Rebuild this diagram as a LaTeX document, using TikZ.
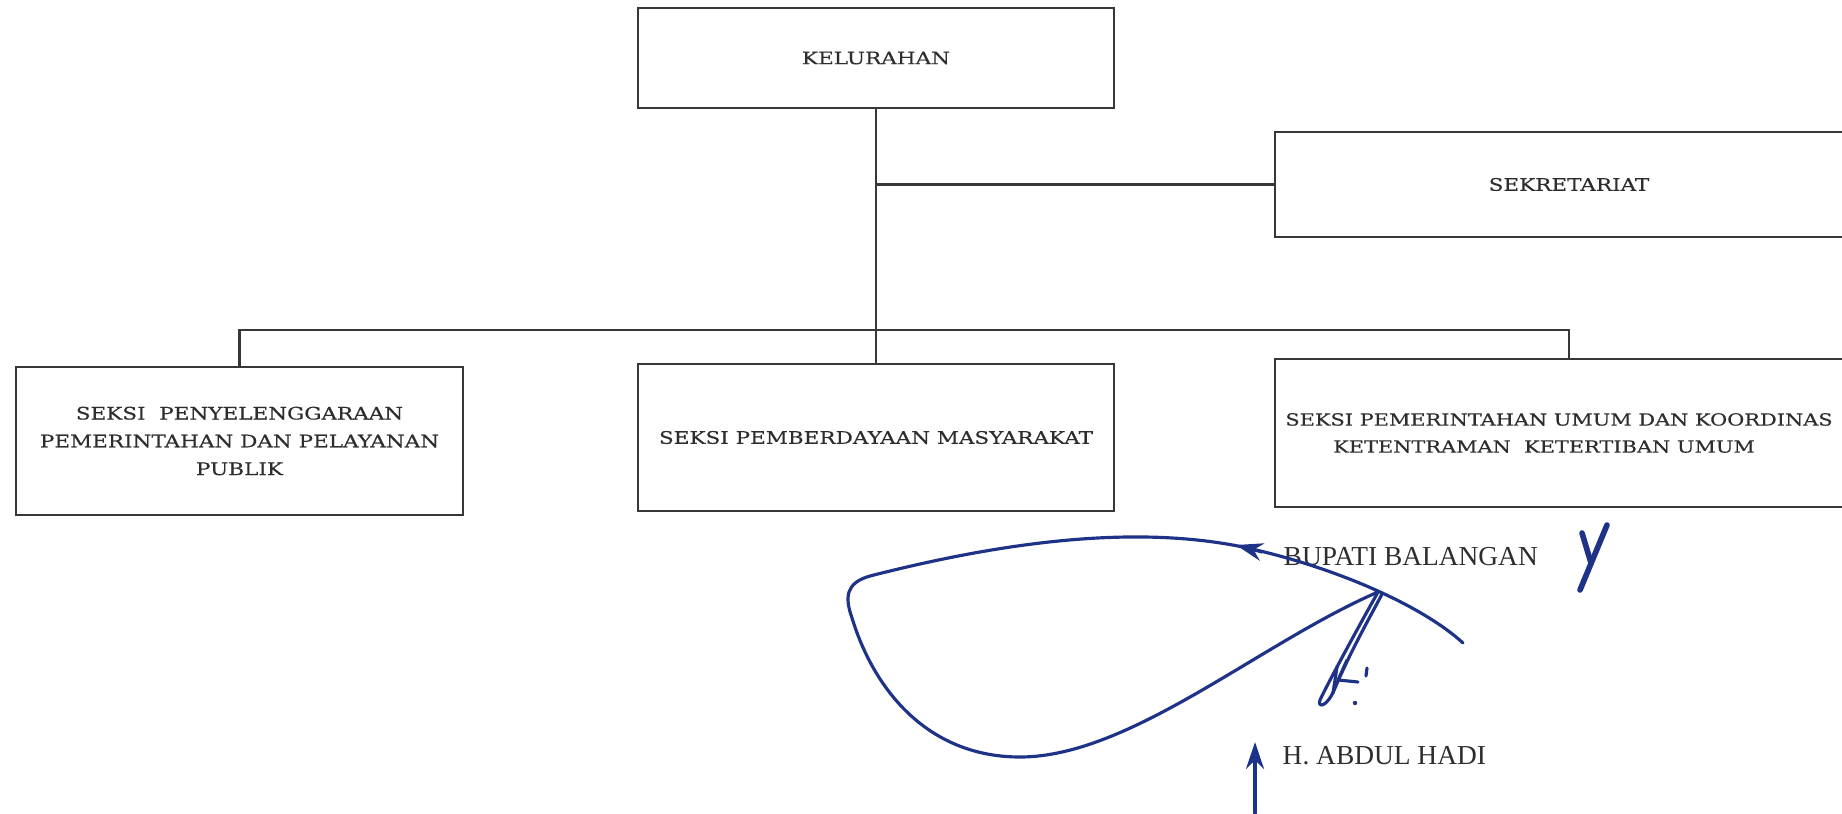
\documentclass[tikz,border=0pt]{standalone}
\usepackage{fontspec}
\usepackage{xcolor}
\usepackage{tikz}
\usetikzlibrary{arrows.meta,positioning,calc}
\newfontfamily\boxfont[FakeStretch=1.25,FakeBold=0.4]{DejaVu Serif}
\newfontfamily\namefont{Liberation Serif}
\definecolor{orgedge}{RGB}{55,55,55}
\definecolor{orgtext}{RGB}{45,45,45}
\definecolor{sigink}{RGB}{30,50,135}
\tikzset{
  orgbox/.style={
    draw=orgedge, line width=0.8pt, align=center, inner sep=0pt,
    text=orgtext, font=\boxfont\fontsize{4.9}{7.9}\selectfont
  },
  link/.style={draw=orgedge, line width=0.6pt},
  sign/.style={draw=sigink, line width=0.9pt, line cap=round, line join=round},
  signarr/.style={sign, -{Stealth[length=2.7mm,width=1.8mm]}},
  signame/.style={
    font=\namefont\fontsize{7.8}{9}\selectfont, text=orgtext,
    inner sep=0pt, anchor=west
  }
}

\begin{document}
\begin{tikzpicture}[x=1cm,y=1cm]
  \clip (0,0) rectangle (18.42,8.13);
  \node[orgbox, minimum width=4.76cm, minimum height=1.0cm] (kel) at (8.76,7.55) {KELURAHAN};
  \node[orgbox, minimum width=5.88cm, minimum height=1.05cm] (sek) at (15.69,6.285) {SEKRETARIAT};
  \node[orgbox, minimum width=4.47cm, minimum height=1.48cm] (pen) at (2.395,3.72) {SEKSI\ \ PENYELENGGARAAN\\PEMERINTAHAN DAN PELAYANAN\\PUBLIK};
  \node[orgbox, minimum width=4.76cm, minimum height=1.47cm] (pm) at (8.76,3.755) {SEKSI PEMBERDAYAAN MASYARAKAT};
  \node[orgbox, minimum width=5.88cm, minimum height=1.48cm, font=\boxfont\fontsize{4.75}{7.7}\selectfont] (pk) at (15.69,3.80) {SEKSI PEMERINTAHAN UMUM DAN KOORDINAS\hspace*{0.2cm}\\KETENTRAMAN\ \ KETERTIBAN UMUM\hspace*{0.5cm}};
  \coordinate (bus) at (0,4.83);
  \draw[link] (kel) -- (pm);
  \draw[link] (kel.south |- sek.west) -- (sek.west);
  \draw[link] (pen.north) -- (pen.north |- bus) -- (pk.north |- bus) -- (pk.north);
  \node[signame] (bupati) at (12.83,2.56) {BUPATI BALANGAN};
  \node[signame] (nama) at (12.82,0.57) {H. ABDUL HADI};
  \draw[sign] (14.63,1.70) .. controls (14.25,2.05) and (13.40,2.45) .. (12.43,2.66)
    .. controls (11.50,2.85) and (10.30,2.78) .. (8.70,2.37)
    .. controls (8.45,2.30) and (8.45,2.15) .. (8.52,1.95)
    .. controls (8.75,1.20) and (9.30,0.56) .. (10.20,0.56)
    .. controls (11.30,0.56) and (12.60,1.70) .. (13.78,2.21);
  \draw[sign] (13.78,2.21) .. controls (13.55,1.80) and (13.28,1.30) .. (13.20,1.13)
    .. controls (13.17,1.05) and (13.27,1.05) .. (13.35,1.25)
    .. controls (13.52,1.65) and (13.75,2.05) .. (13.82,2.19);
  \draw[sign] (13.37,1.46) -- (13.33,1.20);
  \draw[sign] (13.47,1.53) -- (13.38,1.33) -- (13.58,1.31);
  \draw[sign] (13.67,1.45) -- (13.66,1.37);
  \fill[sigink] (13.55,1.10) circle (0.022);
  \draw[signarr] (12.62,2.61) -- (12.36,2.68);
  \draw[sign, line width=1.6pt] (15.82,2.80) -- (15.91,2.50);
  \draw[sign, line width=1.6pt] (16.07,2.88) -- (15.80,2.23);
  \draw[signarr, line width=1.1pt] (12.55,0) -- (12.55,0.71);
\end{tikzpicture}
\end{document}
